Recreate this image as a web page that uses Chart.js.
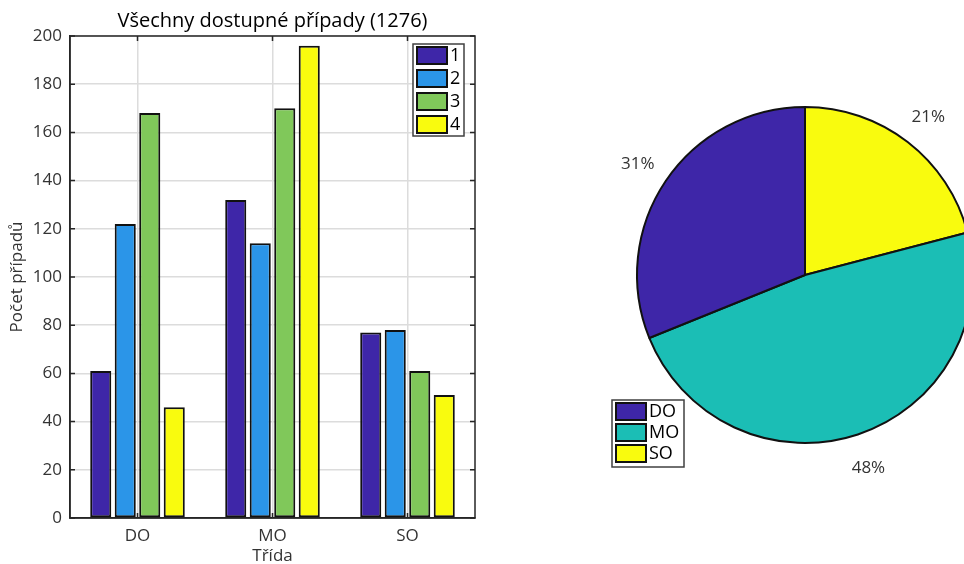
<!DOCTYPE html>
<html><head><meta charset="utf-8">
<script src="https://cdn.jsdelivr.net/npm/chart.js@4.4.1/dist/chart.umd.min.js"></script>
<style>
html,body{margin:0;padding:0;background:#fff;overflow:hidden;width:964px;height:564px;}
#barBox{position:absolute;left:0;top:0;width:490px;height:564px;}
#pieBox{position:absolute;left:600px;top:0;width:400px;height:564px;}
</style></head>
<body>
<div id="barBox"><canvas id="bar"></canvas></div>
<div id="pieBox"><canvas id="pie"></canvas></div>
<script>
const titleText = 'Všechny dostupné případy (1276)';
const categories = ['DO', 'MO', 'SO'];
const seriesLabels = ['1', '2', '3', '4'];
const series1 = [61, 132, 77];
const series2 = [122, 114, 78];
const series3 = [168, 170, 61];
const series4 = [46, 196, 51];
const yTicks = [0, 20, 40, 60, 80, 100, 120, 140, 160, 180, 200];
const xTitle = 'Třída';
const yTitle = 'Počet případů';

const seriesColors = ['#3e26a8', '#2b95e8', '#80c85a', '#f9fb0e'];
const pieColors = ['#3e26a8', '#1bbeb5', '#f9fb0e'];
const FONT = 'Open Sans';
const TXT = '#333333';
const AX = '#262626';

const allSeries = [series1, series2, series3, series4];
const pieValues = categories.map((c, i) => allSeries.reduce((s, arr) => s + arr[i], 0));
const pieTotal = pieValues.reduce((a, b) => a + b, 0);

Chart.defaults.font.family = FONT;
Chart.defaults.animation = false;

const barDecor = {
  id: 'barDecor',
  afterDraw(chart) {
    const ctx = chart.ctx, a = chart.chartArea;
    const ys = chart.scales.y, xs = chart.scales.x;
    ctx.save();
    ctx.strokeStyle = AX; ctx.lineWidth = 1.5;
    ctx.strokeRect(a.left, a.top, a.right - a.left, a.bottom - a.top);
    ctx.beginPath();
    yTicks.forEach(v => {
      const y = ys.getPixelForValue(v);
      ctx.moveTo(a.left, y); ctx.lineTo(a.left + 5, y);
      ctx.moveTo(a.right, y); ctx.lineTo(a.right - 5, y);
    });
    categories.forEach((c, i) => {
      const x = xs.getPixelForValue(i);
      ctx.moveTo(x, a.bottom); ctx.lineTo(x, a.bottom - 5);
      ctx.moveTo(x, a.top); ctx.lineTo(x, a.top + 5);
    });
    ctx.stroke();
    ctx.fillStyle = '#000';
    ctx.font = '20px "' + FONT + '"';
    ctx.textAlign = 'center'; ctx.textBaseline = 'middle';
    ctx.fillText(titleText, (a.left + a.right) / 2, 21);
    const lx = 413, ly = 44, lw = 51, rowH = 23;
    ctx.fillStyle = '#fff';
    ctx.fillRect(lx, ly, lw, rowH * 4);
    ctx.strokeStyle = '#404040'; ctx.lineWidth = 1.5;
    ctx.strokeRect(lx, ly, lw, rowH * 4);
    ctx.font = '18px "' + FONT + '"';
    ctx.textAlign = 'left';
    chart.data.datasets.forEach((ds, i) => {
      const y0 = ly + 3 + i * rowH;
      ctx.fillStyle = ds.backgroundColor;
      ctx.fillRect(lx + 4, y0, 30, 17);
      ctx.strokeStyle = '#111'; ctx.lineWidth = 2;
      ctx.strokeRect(lx + 4, y0, 30, 17);
      ctx.fillStyle = '#000';
      ctx.fillText(ds.label, lx + 37, y0 + 9);
    });
    ctx.restore();
  }
};

new Chart(document.getElementById('bar'), {
  type: 'bar',
  data: {
    labels: categories,
    datasets: allSeries.map((arr, i) => ({
      label: seriesLabels[i],
      data: arr,
      backgroundColor: seriesColors[i],
      borderColor: '#111',
      borderWidth: 2,
      borderSkipped: false,
      categoryPercentage: 0.726,
      barPercentage: 0.86
    }))
  },
  options: {
    responsive: true, maintainAspectRatio: false,
    layout: { padding: { top: 36, right: 15, left: 0, bottom: 0 } },
    plugins: { legend: { display: false }, title: { display: false }, tooltip: { enabled: false } },
    scales: {
      x: {
        offset: true,
        grid: { offset: false, color: '#dcdcdc', lineWidth: 1.5, drawTicks: false },
        border: { display: true, color: AX, width: 1.5 },
        ticks: { color: TXT, font: { size: 17 }, padding: 8 },
        title: { display: true, text: xTitle, color: TXT, font: { size: 17 }, padding: { top: 0, bottom: -2 } },
        afterFit: s => { s.height = 46; }
      },
      y: {
        min: 0, max: 200,
        afterBuildTicks: s => { s.ticks = yTicks.map(v => ({ value: v })); },
        grid: { color: '#dcdcdc', lineWidth: 1.5, drawTicks: false },
        border: { display: true, color: AX, width: 1.5 },
        ticks: { color: TXT, font: { size: 17 }, padding: 8 },
        title: { display: true, text: yTitle, color: TXT, font: { size: 17 }, padding: { top: 7, bottom: 0 } },
        afterFit: s => { s.width = 70; }
      }
    }
  },
  plugins: [barDecor]
});

const pieDecor = {
  id: 'pieDecor',
  afterDraw(chart) {
    const ctx = chart.ctx;
    const meta = chart.getDatasetMeta(0);
    ctx.save();
    ctx.fillStyle = TXT;
    ctx.font = '17px "' + FONT + '"';
    ctx.textAlign = 'center'; ctx.textBaseline = 'middle';
    meta.data.forEach((arc, i) => {
      const mid = (arc.startAngle + arc.endAngle) / 2;
      const r = arc.outerRadius * 1.2;
      const v = chart.data.datasets[0].data[i];
      ctx.fillText(Math.round(v / pieTotal * 100) + '%', arc.x + Math.cos(mid) * r, arc.y + Math.sin(mid) * r + 2);
    });
    const lx = 12, ly = 400, lw = 72, rowH = 21;
    ctx.fillStyle = '#fff';
    ctx.fillRect(lx, ly, lw, rowH * 3 + 4);
    ctx.strokeStyle = '#404040'; ctx.lineWidth = 1.5;
    ctx.strokeRect(lx, ly, lw, rowH * 3 + 4);
    ctx.font = '18px "' + FONT + '"';
    ctx.textAlign = 'left';
    categories.forEach((c, i) => {
      const y0 = ly + 3 + i * rowH;
      ctx.fillStyle = pieColors[i];
      ctx.fillRect(lx + 4, y0, 30, 17);
      ctx.strokeStyle = '#111'; ctx.lineWidth = 2;
      ctx.strokeRect(lx + 4, y0, 30, 17);
      ctx.fillStyle = '#000';
      ctx.fillText(c, lx + 37, y0 + 9);
    });
    ctx.restore();
  }
};

const pieOrder = [2, 1, 0];
new Chart(document.getElementById('pie'), {
  type: 'pie',
  data: {
    labels: pieOrder.map(i => categories[i]),
    datasets: [{
      data: pieOrder.map(i => pieValues[i]),
      backgroundColor: pieOrder.map(i => pieColors[i]),
      borderColor: '#111',
      borderWidth: 2
    }]
  },
  options: {
    responsive: true, maintainAspectRatio: false,
    layout: { padding: { left: 36, right: 26, top: 106, bottom: 120 } },
    plugins: { legend: { display: false }, tooltip: { enabled: false } }
  },
  plugins: [pieDecor]
});
</script>
</body></html>
